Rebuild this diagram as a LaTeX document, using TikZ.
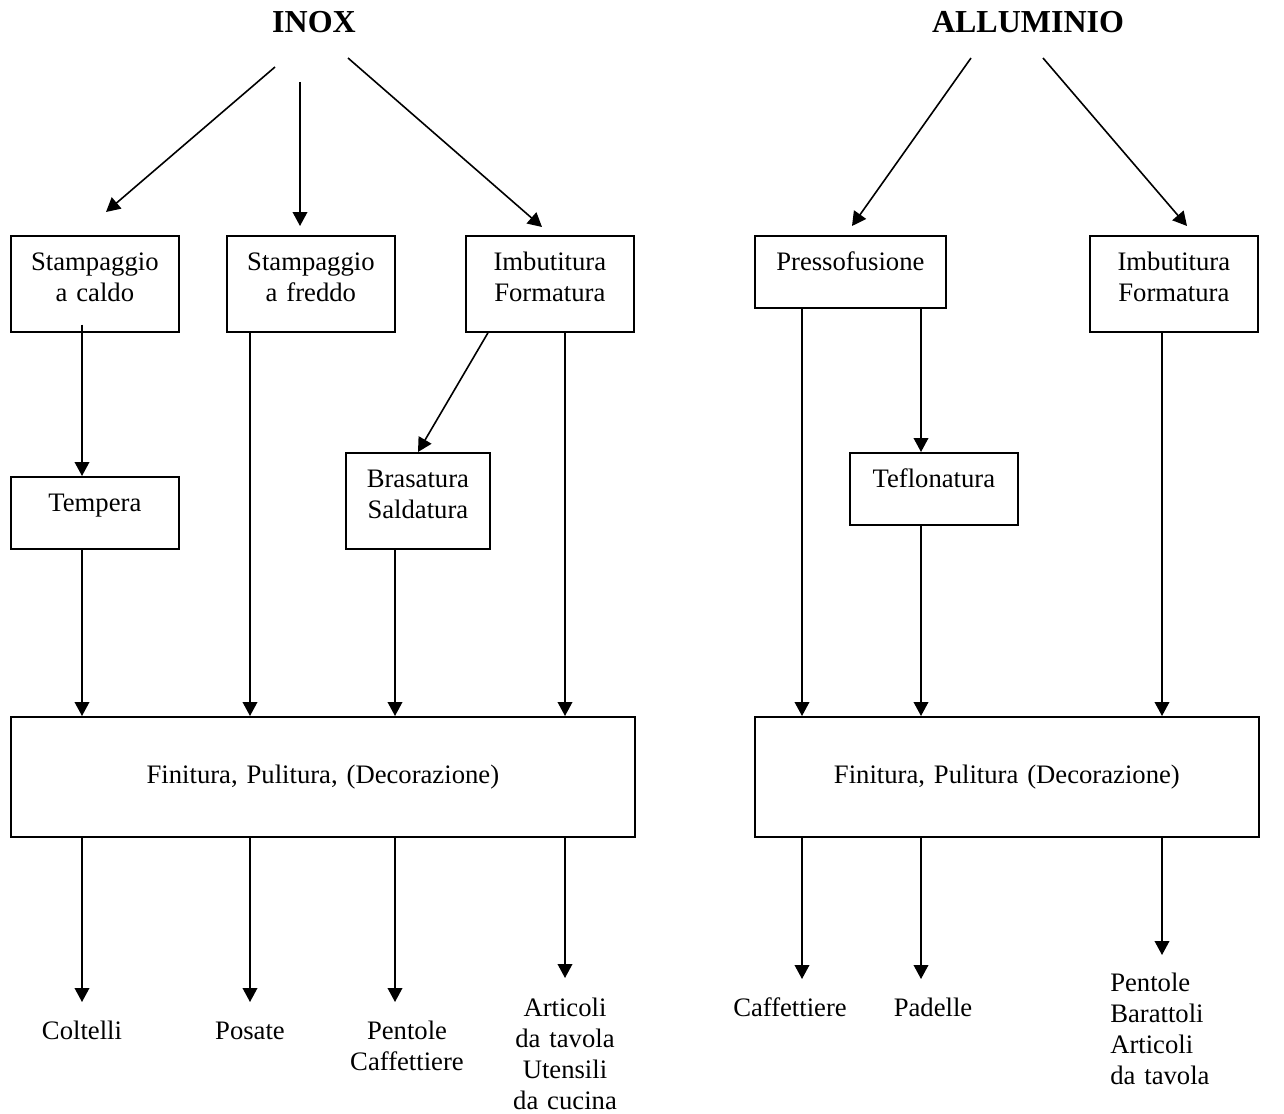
\documentclass[tikz,border=0pt]{standalone}
\usepackage{fontspec}
\setmainfont{Liberation Serif}
\usepackage{tikz}
\usetikzlibrary{arrows.meta}
\tikzset{
>={Triangle[length=10.5pt,width=11pt]},
  processo/.style 2 args={
    rectangle,
    draw=black, line width=1.3pt,
    inner sep=0pt,
    text width=#1,
    text height=26pt,
    text depth=#2,
    align=center,
    anchor=north west},
  titolo/.style={
    inner sep=0pt,
    anchor=base,
    font=\bfseries\fontsize{24}{28}\selectfont},
  prodotto/.style={
    inner sep=0pt,
    text width=130pt,
    align=center,
    anchor=base},
  freccia/.style={draw, line width=1.2pt, ->},
}
\begin{document}
\begin{tikzpicture}[x=0.75pt,y=-0.75pt,font=\fontsize{20}{23.25}\selectfont]
  \useasboundingbox (0,0) rectangle (1284,1113);
  % colonne delle frecce
  \coordinate (k1) at (82,0);
  \coordinate (k2) at (250,0);
  \coordinate (k3) at (395,0);
  \coordinate (k4) at (565,0);
  \coordinate (k5) at (802,0);
  \coordinate (k6) at (921,0);
  \coordinate (k7) at (1162,0);

  \node[titolo] (inox) at (314,33) {INOX};
  \node[titolo] (allum) at (1028,33) {ALLUMINIO};

  \node[processo={126pt}{46pt}] (caldo) at (10,235) {Stampaggio\\a caldo};
  \node[processo={126pt}{46pt}] (freddo) at (226,235) {Stampaggio\\a freddo};
  \node[processo={126pt}{46pt}] (imbinox) at (465,235) {Imbutitura\\Formatura};
  \node[processo={126pt}{28pt}] (tempera) at (10,476) {Tempera};
  \node[processo={108pt}{46pt}] (brasa) at (345,452) {Brasatura\\Saldatura};
  \node[processo={468pt}{39.75pt},text height=50.25pt] (fininox) at (10,716)
    {Finitura, Pulitura, (Decorazione)};

  \node[processo={143.25pt}{28pt}] (presso) at (754,235) {Pressofusione};
  \node[processo={126pt}{46pt}] (imballum) at (1089,235) {Imbutitura\\Formatura};
  \node[processo={126pt}{28pt}] (teflon) at (849,452) {Teflonatura};
  \node[processo={378pt}{39.75pt},text height=50.25pt] (finallum) at (754,716)
    {Finitura, Pulitura (Decorazione)};

  \node[prodotto] (coltelli) at (82,1039) {Coltelli};
  \node[prodotto] (posate) at (250,1039) {Posate};
  \node[prodotto] (pentinox) at (407,1039) {Pentole\\Caffettiere};
  \node[prodotto] (articinox) at (565,1016) {Articoli\\da tavola\\Utensili\\da cucina};
  \node[prodotto] (caffe) at (790,1016) {Caffettiere};
  \node[prodotto] (padelle) at (933,1016) {Padelle};
  \node[prodotto,align=left,anchor=base west] (pentallum) at (1110,991)
    {Pentole\\Barattoli\\Articoli\\da tavola};

  % dai materiali
  \draw[freccia] (275,67) -- (106,212);
  \draw[freccia] (300,82) -- (300,226);
  \draw[freccia] (348,58) -- (542,227);
  \draw[freccia] (971,58) -- (852,226);
  \draw[freccia] (1043,58) -- (1187,226);

  % lavorazioni
  \draw[freccia] ([yshift=6pt]caldo.south -| k1) -- (tempera.north -| k1);
  \draw[freccia] (tempera.south -| k1) -- (fininox.north -| k1);
  \draw[freccia] (freddo.south -| k2) -- (fininox.north -| k2);
  \draw[freccia] (imbinox.south -| 488,0) -- (brasa.north -| 418,0);
  \draw[freccia] (brasa.south -| k3) -- (fininox.north -| k3);
  \draw[freccia] (imbinox.south -| k4) -- (fininox.north -| k4);
  \draw[freccia] (presso.south -| k5) -- (finallum.north -| k5);
  \draw[freccia] (presso.south -| k6) -- (teflon.north -| k6);
  \draw[freccia] (teflon.south -| k6) -- (finallum.north -| k6);
  \draw[freccia] (imballum.south -| k7) -- (finallum.north -| k7);

  % prodotti
  \coordinate (e1) at (82,1002);
  \coordinate (e2) at (250,1002);
  \coordinate (e3) at (395,1002);
  \coordinate (e4) at (565,978);
  \coordinate (e5) at (802,979);
  \coordinate (e6) at (921,979);
  \coordinate (e7) at (1162,955);
  \draw[freccia] (fininox.south -| k1) -- (e1);
  \draw[freccia] (fininox.south -| k2) -- (e2);
  \draw[freccia] (fininox.south -| k3) -- (e3);
  \draw[freccia] (fininox.south -| k4) -- (e4);
  \draw[freccia] (finallum.south -| k5) -- (e5);
  \draw[freccia] (finallum.south -| k6) -- (e6);
  \draw[freccia] (finallum.south -| k7) -- (e7);
\end{tikzpicture}
\end{document}
